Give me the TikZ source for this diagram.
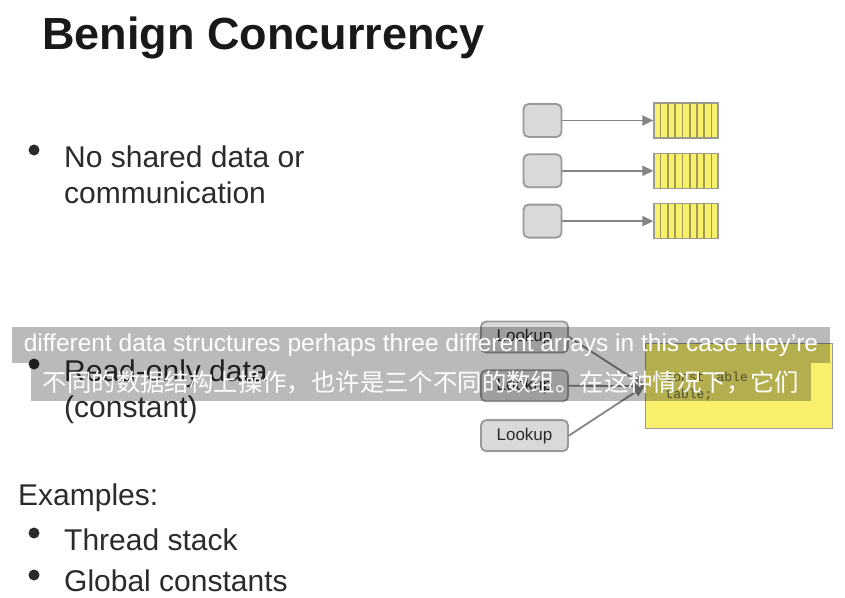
\documentclass[tikz,border=0pt]{standalone}
\usepackage{fontspec}
\setmainfont{Liberation Sans}
\setmonofont{Liberation Mono}
\newfontfamily\cjkfont{Noto Sans CJK SC}
\usetikzlibrary{arrows,arrows.meta,positioning,calc}
\definecolor{slidetext}{HTML}{2B2B2B}
\definecolor{boxgray}{HTML}{D9D9D9}
\definecolor{edgegray}{HTML}{999999}
\definecolor{linkgray}{HTML}{858585}
\definecolor{celly}{HTML}{F7F06C}
\definecolor{cellline}{HTML}{A09A55}
\definecolor{tabley}{HTML}{F8F06C}
\definecolor{codegray}{HTML}{6E6A40}

\begin{document}
\begin{tikzpicture}[x=1pt,y=-1pt,
	bodytext/.style={anchor=base west,inner sep=0pt,text=slidetext,font=\fontsize{30}{36}\selectfont},
	dot/.style={circle,fill=slidetext,minimum size=11pt,inner sep=0pt},
	thread/.style={rectangle,rounded corners=5pt,draw=edgegray,fill=boxgray,line width=1.8pt,minimum width=38pt,minimum height=33pt,inner sep=0pt},
	arraybox/.style={rectangle,draw=edgegray,fill=celly,line width=1.4pt,minimum width=64pt,minimum height=35pt,inner sep=0pt},
	lookup/.style={rectangle,rounded corners=5pt,draw=edgegray,fill=boxgray,line width=1.8pt,minimum width=87pt,minimum height=31pt,inner sep=0pt,text=slidetext,font=\fontsize{17}{20}\selectfont},
	link/.style={draw=linkgray,line width=1.8pt,-{Triangle[length=11pt,width=10pt]}},
	subbar/.style={rectangle,fill=black,fill opacity=0.27,text opacity=1,text=white,inner sep=0pt}
	]
	\fill[white] (0,0) rectangle (845,597);
	\useasboundingbox (0,0) rectangle (845,597);

	% title and bullets
	\node (title) [anchor=base west,inner sep=0pt,text=black!90,font=\bfseries\fontsize{45}{54}\selectfont] at (42,49) {Benign Concurrency};
	\node (b1) [dot] at (34,150) {};
	\node (nsd1) [bodytext] at (64,167) {No shared data or};
	\node (nsd2) [bodytext] at (64,203) {communication};
	\node (b2) [dot] at (34,364) {};
	\node (rod1) [bodytext] at (64,381) {Read-only data};
	\node (rod2) [bodytext] at (64,417) {(constant)};
	\node (ex) [bodytext] at (18,505) {Examples:};
	\node (b3) [dot] at (34,533) {};
	\node (ts) [bodytext] at (64,550) {Thread stack};
	\node (b4) [dot] at (34,575) {};
	\node (gc) [bodytext] at (64,591) {Global constants};

	% threads with their own arrays
	\node (th1) [thread] at (542.5,120.5) {};
	\node (th2) [thread,below=15.5pt of th1] {};
	\node (th3) [thread,below=15.5pt of th2] {};
	\foreach \a in {1,2,3}{
		\node (arr\a) [arraybox,right=91pt of th\a] {};
		\foreach \k in {1,...,8}
			\draw[cellline,line width=1.6pt] ($(arr\a.north west)!\k/9!(arr\a.north east)$) -- ($(arr\a.south west)!\k/9!(arr\a.south east)$);
		\draw[link] (th\a) -- (arr\a);
	}

	% lookups into one constant table
	\node (lk1) [lookup] at (524.5,337) {Lookup};
	\node (lk2) [lookup,below=16pt of lk1] {Lookup};
	\node (lk3) [lookup,below=17pt of lk2] {Lookup};
	\node (tbl) [rectangle,draw=edgegray,fill=tabley,line width=1.8pt,minimum width=187pt,minimum height=85pt,
		text width=147pt,inner xsep=20pt,align=left,text=codegray,font=\ttfamily\fontsize{13}{17}\selectfont] at (739,386) {const Table\\table;};
	\foreach \a in {1,2,3}
		\draw[link] (lk\a.east) -- (tbl.west);

	% subtitles
	\node (sub1) [subbar,minimum width=818pt,minimum height=36pt,font=\fontsize{24.5}{29}\selectfont] at (421,345) {different data structures perhaps three different arrays in this case they're};
	\node (sub2) [subbar,minimum width=780pt,minimum height=38pt,font=\cjkfont\fontsize{24.4}{29}\selectfont] at (421,382) {不同的数据结构上操作，也许是三个不同的数组。在这种情况下，它们};
\end{tikzpicture}
\end{document}
